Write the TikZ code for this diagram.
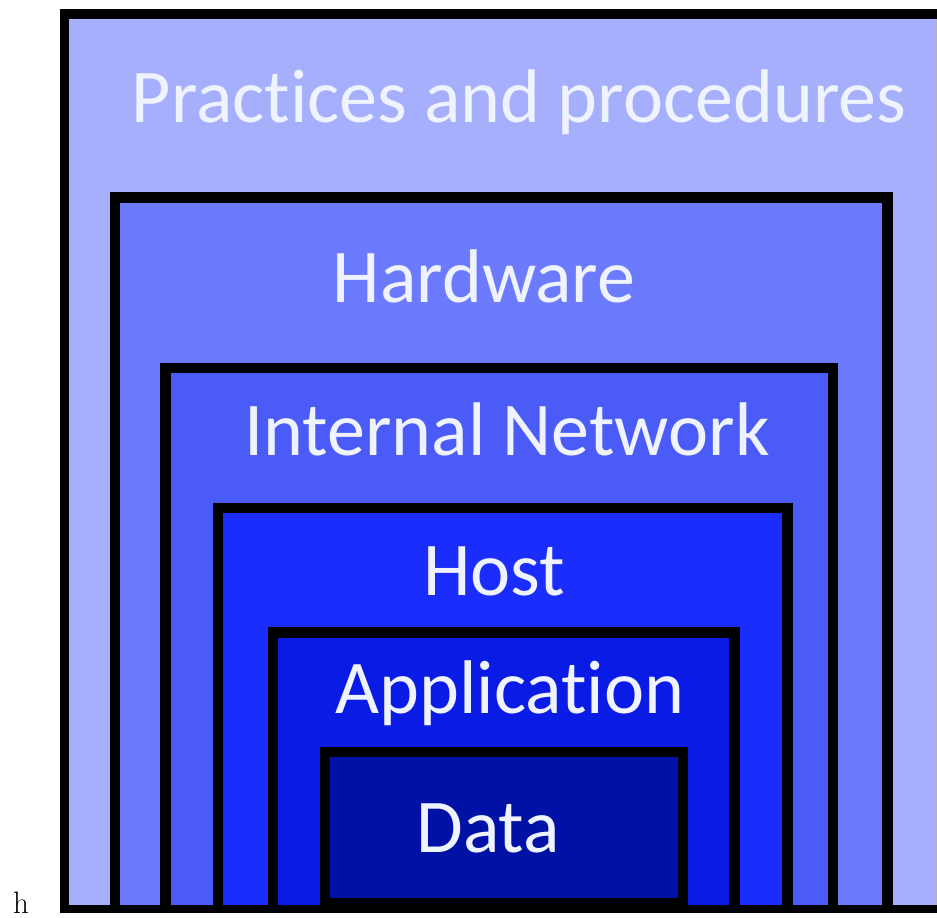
\documentclass[tikz,border=0pt]{standalone}
\usepackage{fontspec}
\setmainfont[Ligatures=NoCommon]{Carlito}
\newfontfamily\lmfont{Latin Modern Roman}
\definecolor{cPract}{HTML}{A6AFFC}
\definecolor{cHard}{HTML}{6C7AFD}
\definecolor{cNet}{HTML}{4A5BF8}
\definecolor{cHost}{HTML}{1A2DFC}
\definecolor{cApp}{HTML}{0A1BE6}
\definecolor{cData}{HTML}{0011A6}
\definecolor{cText}{HTML}{EEF3FF}
\begin{document}
\begin{tikzpicture}[x=1pt,y=-1pt,
  frame/.style={fill=black},
  layerlabel/.style={anchor=base,text=cText,font=\fontsize{76}{82}\selectfont,inner sep=0pt}]
\useasboundingbox (0,0) rectangle (937,918);
\fill[white] (0,0) rectangle (937,918);
% outer: Practices and procedures
\fill[frame] (60,9) rectangle (937,913);
\fill[cPract] (69,19) rectangle (935,905);
\fill[gray!60] (935,19) rectangle (937,905);
% Hardware
\fill[frame] (110,192) rectangle (893,913);
\fill[cHard] (120,203) rectangle (882,905);
% Internal Network
\fill[frame] (160,363) rectangle (838,913);
\fill[cNet] (171,373) rectangle (828,905);
% Host
\fill[frame] (213,503) rectangle (793,913);
\fill[cHost] (223,513) rectangle (782,905);
% Application
\fill[frame] (268,627) rectangle (740,913);
\fill[cApp] (278,638) rectangle (729,905);
% Data
\fill[frame] (320,747) rectangle (688,913);
\fill[cData] (330,757) rectangle (678,898);
% labels
\node[layerlabel] (practices) at (519,122) {Practices and procedures};
\node[layerlabel] (hardware) at (484,302) {Hardware};
\node[layerlabel] (network) at (507,455) {Internal Network};
\node[layerlabel] (host) at (494,595) {Host};
\node[layerlabel] (application) at (510,713) {Application};
\node[layerlabel] (data) at (488,852) {Data};
\node[anchor=base west,inner sep=0pt,font=\lmfont\fontsize{31}{35}\selectfont] (h) at (13,913) {h};
\end{tikzpicture}
\end{document}
